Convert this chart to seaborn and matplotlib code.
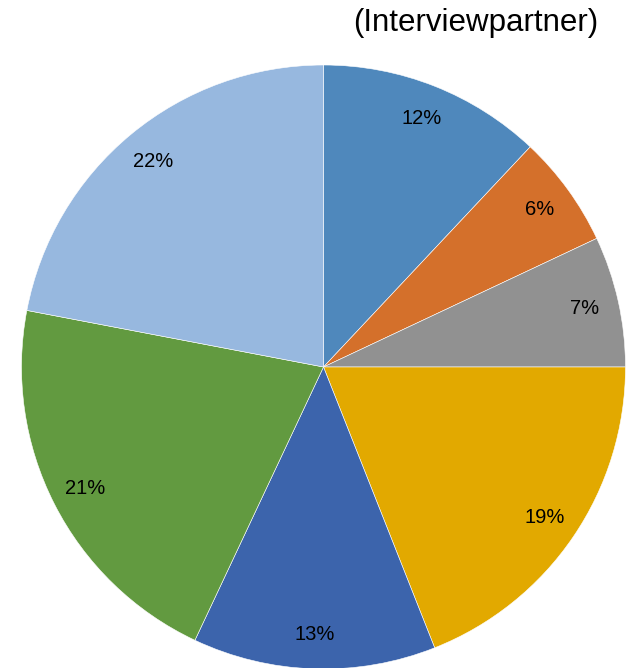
import matplotlib
matplotlib.use("Agg")
import matplotlib.pyplot as plt
import seaborn as sns

# Anteile je Gruppe (im Uhrzeigersinn ab 12 Uhr)
shares = [12, 6, 7, 19, 13, 21, 22]
pct_labels = ["12%", "6%", "7%", "19%", "13%", "21%", "22%"]
slice_colors = ["#4F88BC", "#D4702B", "#919191", "#E2A900",
                "#3C64AC", "#629A40", "#97B8DF"]

sns.set_theme(style="white")
plt.rcParams['font.family'] = ['Liberation Sans', 'DejaVu Sans']

W, H = 634, 668
fig = plt.figure(figsize=(W / 100, H / 100), dpi=100)

# Kreis: Mittelpunkt ~ (323.5, 367) px, Radius ~302 px
r = 302
cx, cy = 323.5, H - 367
ax = fig.add_axes([(cx - r) / W, (cy - r) / H, 2 * r / W, 2 * r / H])

wedges, texts = ax.pie(
    shares,
    labels=pct_labels,
    colors=slice_colors,
    startangle=90,
    counterclock=False,
    labeldistance=0.885,
    wedgeprops=dict(edgecolor="white", linewidth=0.4),
    textprops=dict(fontsize=14.5, color="black"),
)
for t in texts:
    t.set_horizontalalignment("center")
    t.set_verticalalignment("center")

ax.set_xlim(-1, 1)
ax.set_ylim(-1, 1)
ax.set_aspect("equal")
ax.axis("off")

fig.text(598 / W, 1 - 23 / H, "(Interviewpartner)", ha="right", va="center",
         fontsize=22.5, color="black")

fig.savefig("out.png", dpi=100)
